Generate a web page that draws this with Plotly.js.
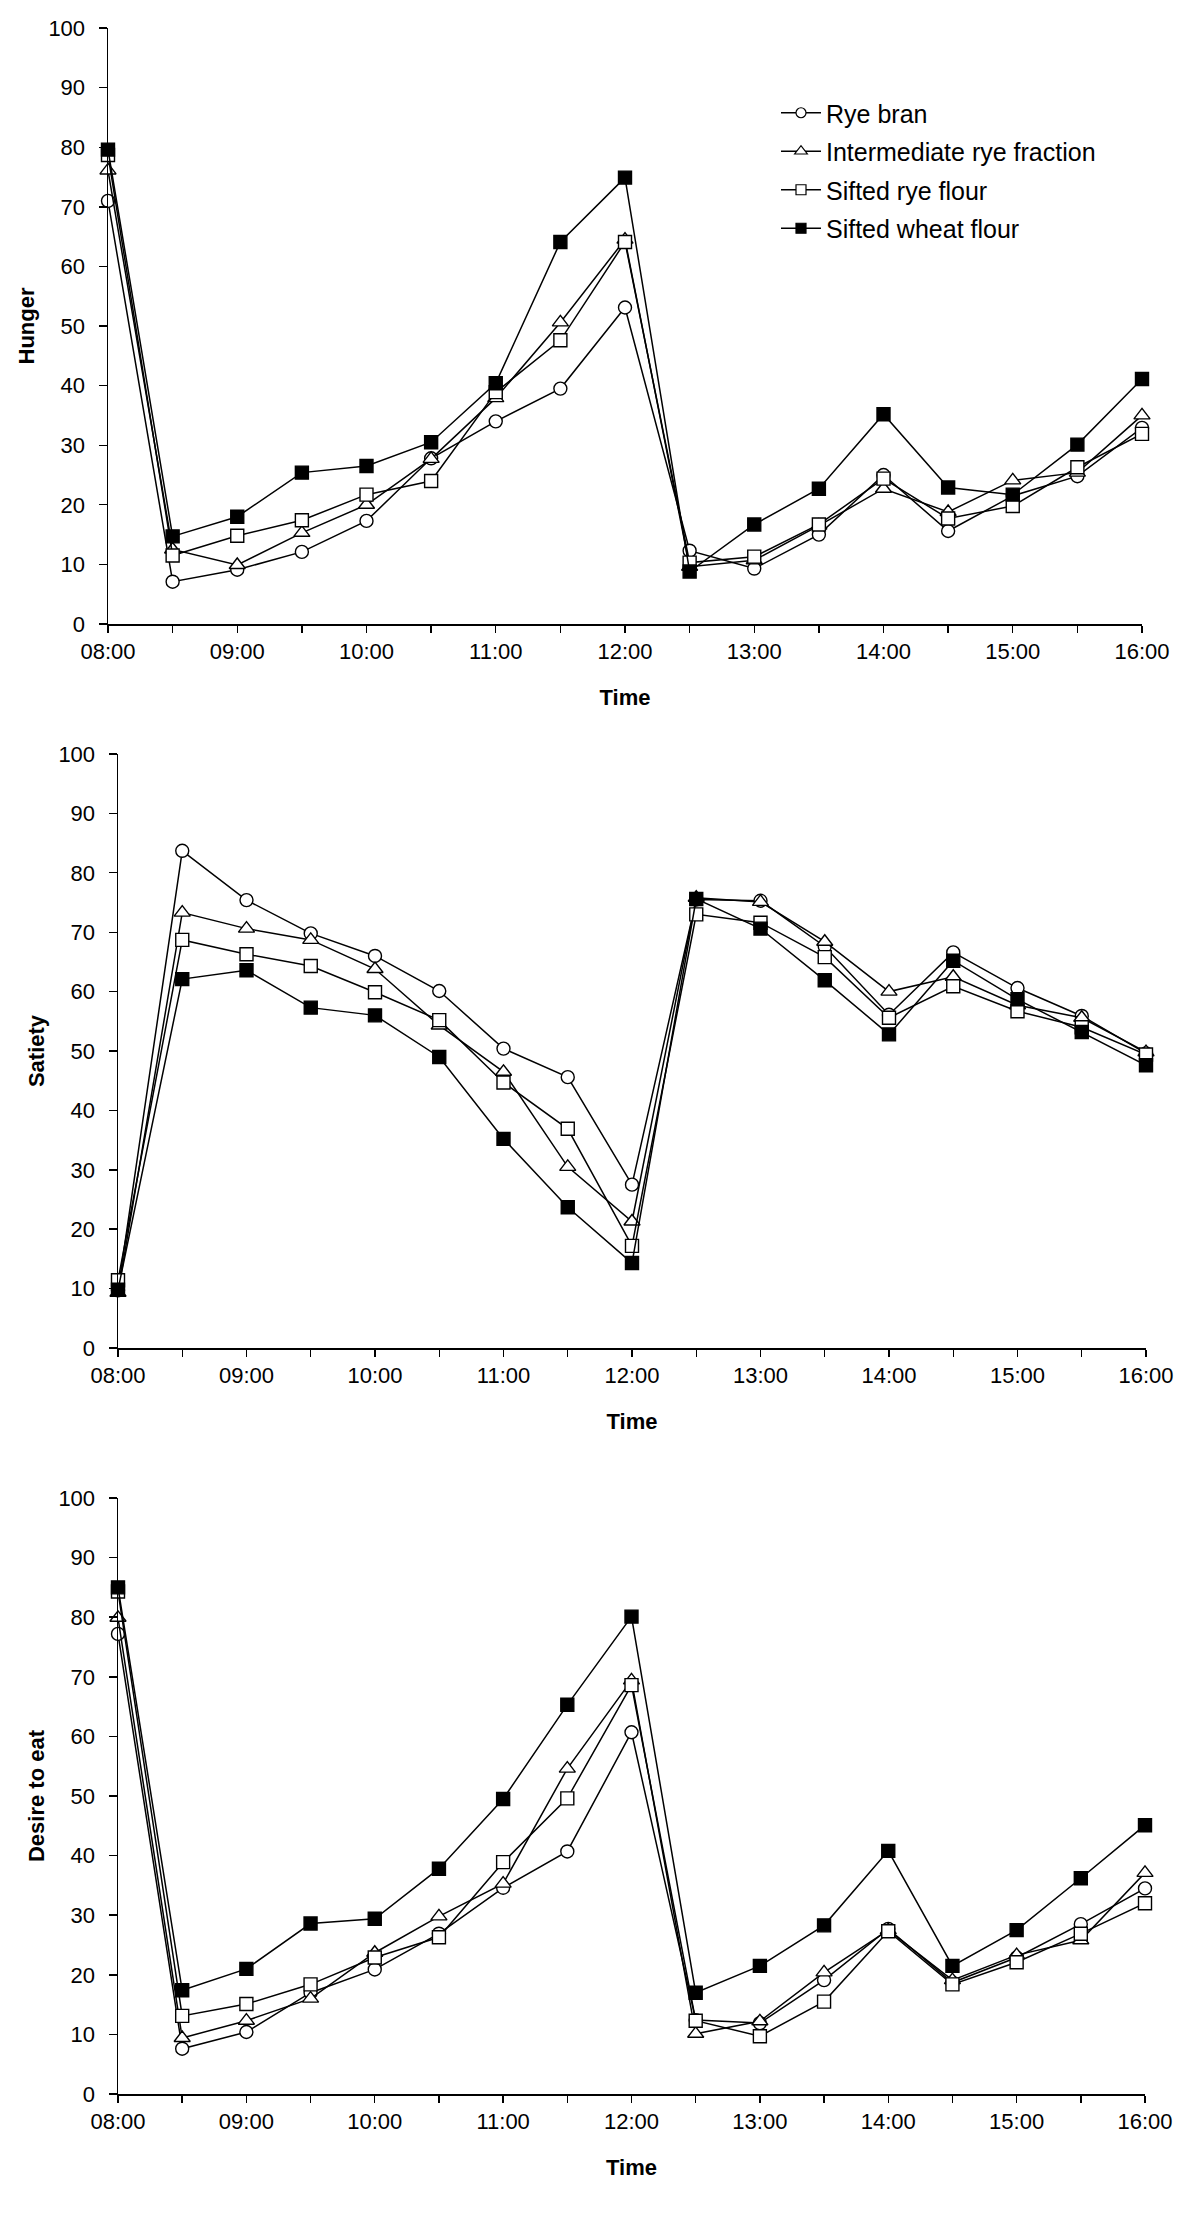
<!DOCTYPE html>
<html>
<head>
<meta charset="utf-8">
<script src="https://cdn.plot.ly/plotly-3.0.1.min.js"></script>
<style>html,body{margin:0;padding:0;background:#fff;}#chart{width:1200px;height:2240px;}</style>
</head>
<body>
<div id="chart"></div>
<script>
// ---- data ----
const times = ['08:00','08:30','09:00','09:30','10:00','10:30','11:00','11:30','12:00',
               '12:30','13:00','13:30','14:00','14:30','15:00','15:30','16:00'];
const hourLabels = ['08:00','09:00','10:00','11:00','12:00','13:00','14:00','15:00','16:00'];
const seriesNames = ['Rye bran','Intermediate rye fraction','Sifted rye flour','Sifted wheat flour'];
const yTicks = [0,10,20,30,40,50,60,70,80,90,100];

// Hunger
const hungerRyeBran      = [71.0, 7.1, 9.1, 12.1, 17.3, 27.8, 34.0, 39.5, 53.1, 12.3, 9.3, 15.0, 25.0, 15.6, 21.5, 24.8, 32.9];
const hungerIntermediate = [76.1,12.5, 9.9, 15.3, 20.0, 27.7, 37.9, 50.6, 64.5,  9.6,10.7, 16.5, 22.7, 18.8, 24.1, 25.4, 35.0];
const hungerSiftedRye    = [78.7,11.5,14.8, 17.4, 21.7, 24.0, 38.9, 47.6, 64.1, 10.3,11.3, 16.7, 24.4, 17.7, 19.8, 26.3, 31.9];
const hungerSiftedWheat  = [79.6,14.7,18.0, 25.4, 26.5, 30.5, 40.4, 64.1, 74.9,  8.8,16.7, 22.7, 35.2, 22.9, 21.7, 30.1, 41.1];

// Satiety
const satietyRyeBran      = [ 9.7,83.7,75.4,69.8,66.0,60.1,50.4,45.6,27.5,75.5,75.3,67.6,56.1,66.6,60.6,55.9,49.6];
const satietyIntermediate = [ 9.3,73.3,70.6,68.7,63.8,54.3,46.5,30.5,21.3,75.8,75.1,68.4,60.0,62.5,57.7,55.6,49.8];
const satietySiftedRye    = [11.4,68.7,66.3,64.3,59.9,55.2,44.7,36.9,17.2,73.0,71.6,65.8,55.6,60.9,56.7,54.0,49.4];
const satietySiftedWheat  = [ 9.8,62.1,63.6,57.3,56.0,49.0,35.2,23.7,14.3,75.6,70.6,61.9,52.8,65.2,58.7,53.2,47.6];

// Desire to eat
const desireRyeBran      = [77.2, 7.6,10.4,17.0,20.9,26.9,34.6,40.7,60.7,12.4,11.9,19.1,27.7,18.7,22.9,28.5,34.5];
const desireIntermediate = [79.9, 9.4,12.3,16.0,23.7,29.8,35.3,54.6,69.4,10.1,12.2,20.4,27.5,19.1,23.3,25.8,37.1];
const desireSiftedRye    = [84.3,13.1,15.1,18.4,22.9,26.3,38.9,49.6,68.6,12.3, 9.7,15.5,27.3,18.4,22.1,26.9,32.0];
const desireSiftedWheat  = [85.0,17.4,21.0,28.6,29.4,37.8,49.5,65.3,80.1,17.0,21.5,28.3,40.8,21.5,27.5,36.2,45.1];

// ---- styling ----
const hours = times.map(t => Number(t.slice(0,2)) + Number(t.slice(3))/60);
const tickText = hours.map(h => { const s = String(Math.floor(h)).padStart(2,'0') + ':00'; return (h % 1 === 0 && hourLabels.includes(s)) ? s : ''; });
const FONT = 'Liberation Sans, Arial, Helvetica, sans-serif';
const styles = [
  {symbol:'circle', fill:'#ffffff'},
  {symbol:'triangle-up', fill:'#ffffff'},
  {symbol:'square', fill:'#ffffff'},
  {symbol:'square', fill:'#000000'}
];
const panels = [
  {title:'Hunger', sets:[hungerRyeBran,hungerIntermediate,hungerSiftedRye,hungerSiftedWheat]},
  {title:'Satiety', sets:[satietyRyeBran,satietyIntermediate,satietySiftedRye,satietySiftedWheat]},
  {title:'Desire to eat', sets:[desireRyeBran,desireIntermediate,desireSiftedRye,desireSiftedWheat]}
];
const W = 1200, H = 2240;
// pixel boxes of the three plot areas [x0,x1,yTop,yBottom]
const boxes = [[108,1142,28,624],[118,1146,754,1348],[118,1145,1498,2094]];

const traces = [];
panels.forEach((p, pi) => {
  const ax = pi === 0 ? '' : String(pi+1);
  p.sets.forEach((vals, si) => {
    traces.push({
      type:'scatter', mode:'lines+markers', x: hours, y: vals,
      name: seriesNames[si], showlegend:false, cliponaxis:false,
      xaxis:'x'+ax, yaxis:'y'+ax,
      line:{color:'#000', width:1.5},
      marker:{symbol:styles[si].symbol, size: si===1 ? 14 : 13, color:styles[si].fill, line:{color:'#000', width:1.4}}
    });
  });
});
// legend entries (small symbols as in the original legend)
seriesNames.forEach((n, si) => {
  traces.push({
    type:'scatter', mode:'lines+markers', x:[null], y:[null], name:n,
    legendgroup:'g'+si, showlegend:true, xaxis:'x', yaxis:'y',
    line:{color:'#000', width:1.3},
    marker:{symbol:styles[si].symbol, size: si===1 ? 11 : 10, color:styles[si].fill, line:{color:'#000', width:1.2}}
  });
});

const layout = {
  width:W, height:H, margin:{l:0,r:0,t:0,b:0}, paper_bgcolor:'#fff', plot_bgcolor:'#fff',
  font:{family:FONT, color:'#000', size:22},
  showlegend:true,
  legend:{x:776/W, y:1-90/H, xanchor:'left', yanchor:'top', font:{family:FONT, size:25, color:'#000'},
          bgcolor:'rgba(0,0,0,0)', borderwidth:0, tracegroupgap:3, itemwidth:40},
  hovermode:false
};
boxes.forEach((b, pi) => {
  const ax = pi === 0 ? '' : String(pi+1);
  layout['xaxis'+ax] = {
    domain:[b[0]/W, b[1]/W], range:[8,16], anchor:'y'+ax,
    tickmode:'array', tickvals:hours, ticktext:tickText,
    ticks:'outside', ticklen:7, tickwidth:1.4, tickcolor:'#000',
    showline:true, linecolor:'#000', linewidth:1.5, showgrid:false, zeroline:false,
    tickfont:{family:FONT, size:22, color:'#000'}, automargin:false,
    title:{text:'<b>Time</b>', font:{family:FONT, size:22, color:'#000'}, standoff:26}
  };
  layout['yaxis'+ax] = {
    domain:[1-b[3]/H, 1-b[2]/H], range:[0,100], anchor:'x'+ax,
    tickmode:'array', tickvals:yTicks,
    ticks:'outside', ticklen:8, tickwidth:1.4, tickcolor:'#000', ticklabelstandoff:9,
    showline:true, linecolor:'#000', linewidth:1.5, showgrid:false, zeroline:false,
    tickfont:{family:FONT, size:22, color:'#000'}, automargin:false,
    title:{text:'<b>'+panels[pi].title+'</b>', font:{family:FONT, size:22, color:'#000'}, standoff:7}
  };
});
Plotly.newPlot('chart', traces, layout, {displayModeBar:false, staticPlot:true});
</script>
</body>
</html>
